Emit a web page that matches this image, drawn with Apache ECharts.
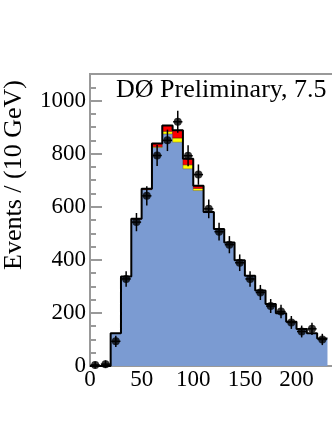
<!DOCTYPE html>
<html>
<head>
<meta charset="utf-8">
<script src="https://cdn.jsdelivr.net/npm/echarts@6/dist/echarts.min.js"></script>
<style>
  html, body { margin: 0; padding: 0; overflow: hidden; background: #fff; }
  #chart { width: 420px; height: 430px; }
</style>
</head>
<body>
<div id="chart"></div>
<script>
  // bin lower edges (GeV), 10 GeV bins
  var binLow = [0, 10, 20, 30, 40, 50, 60, 70, 80, 90, 100, 110, 120, 130, 140, 150, 160, 170, 180, 190, 200, 210, 220]
  var binWidth = 10
  // stacked predictions
  var mainBkg = [0, 0, 123, 337, 553, 664, 823, 874, 843, 743, 661, 578, 516, 465, 398, 340, 284, 234, 199, 167, 139, 123, 104]
  var yellowPart = [0, 0, 0, 0, 0, 1, 3, 10, 16, 15, 8, 0, 0, 0, 0, 0, 0, 0, 0, 0, 0, 0, 0]
  var redPart = [0, 0, 0, 0, 2, 3, 12, 22, 29, 23, 10, 2, 0, 0, 0, 0, 0, 0, 0, 0, 0, 0, 0]
  // data points and errors
  var dataPts = [4, 7, 93, 328, 542, 641, 793, 850, 920, 792, 721, 592, 506, 457, 389, 328, 277, 226, 205, 164, 130, 140, 100]
  var dataErr = [2, 3, 10, 18, 23, 25, 28, 29, 30, 28, 27, 24, 22, 21, 20, 18, 17, 15, 14, 13, 11, 12, 10]
  // axis ticks
  var yTicks = [0, 200, 400, 600, 800, 1000]

  var serif = 'Liberation Serif'

  var blueStep = [], yellowRects = [], redRects = [], outline = [], points = []
  binLow.forEach(function (lo, i) {
    var hi = lo + binWidth
    var b = mainBkg[i], y = b + yellowPart[i], r = y + redPart[i]
    blueStep.push([lo, b])
    yellowRects.push([lo, hi, b, y])
    redRects.push([lo, hi, y, r])
    outline.push([lo, r])
    points.push([(lo + hi) / 2, dataPts[i], dataErr[i], lo, hi])
  })
  var last = binLow.length - 1
  blueStep.push([binLow[last] + binWidth, mainBkg[last]])
  outline.push([binLow[last] + binWidth, outline[last][1]])

  function rectRender(fill, stroke, lw) {
    return function (params, api) {
      if (api.value(3) - api.value(2) <= 0) return
      var p0 = api.coord([api.value(0), api.value(3)])
      var p1 = api.coord([api.value(1), api.value(2)])
      return {
        type: 'rect',
        shape: { x: p0[0], y: p0[1], width: p1[0] - p0[0], height: p1[1] - p0[1] },
        style: { fill: fill, stroke: stroke, lineWidth: lw }
      }
    }
  }

  var chart = echarts.init(document.getElementById('chart'))
  var option = {
    animation: false,
    title: {
      text: 'DØ Preliminary, 7.5 fb⁻¹',
      left: 116,
      top: 77,
      padding: 0,
      textStyle: { fontFamily: serif, fontSize: 26, fontWeight: 'normal', color: '#000' }
    },
    graphic: [{
      type: 'text',
      x: 14,
      y: 175,
      rotation: Math.PI / 2,
      style: {
        text: 'Events / (10 GeV)',
        font: '26px "Liberation Serif"',
        fill: '#000',
        align: 'center',
        verticalAlign: 'middle'
      }
    }],
    grid: {
      left: 90, top: 74, right: 10, bottom: 64,
      show: true, borderColor: '#999', borderWidth: 2
    },
    xAxis: {
      type: 'value', min: 0, max: 300, interval: 50,
      axisLine: { show: true, lineStyle: { color: '#999', width: 2 } },
      axisTick: { show: false },
      splitLine: { show: false },
      axisLabel: { margin: 2, fontFamily: serif, fontSize: 23, color: '#000' }
    },
    yAxis: [{
      type: 'value', min: 0, max: 1100, interval: 200,
      axisLine: { show: true, lineStyle: { color: '#999', width: 2 } },
      axisTick: { show: true, inside: true, length: 12, lineStyle: { color: '#999', width: 2 } },
      splitLine: { show: false },
      axisLabel: {
        margin: 4, fontFamily: serif, fontSize: 23, color: '#000',
        showMaxLabel: false,
        formatter: function (v) { return yTicks.indexOf(v) >= 0 ? String(v) : '' }
      }
    }, {
      type: 'value', min: 0, max: 1100, interval: 50, position: 'left',
      axisLine: { show: false },
      axisTick: { show: true, inside: true, length: 6, lineStyle: { color: '#999', width: 2 } },
      axisLabel: { show: false },
      splitLine: { show: false }
    }],
    series: [{
      type: 'line', name: 'main', z: 2,
      step: 'end', symbol: 'none',
      lineStyle: { width: 0 },
      areaStyle: { color: '#7b9bd2', opacity: 1 },
      data: blueStep
    }, {
      type: 'custom', name: 'yellow', z: 3,
      renderItem: rectRender('#ffff00', 'rgba(60,40,0,0.6)', 0.6),
      data: yellowRects
    }, {
      type: 'custom', name: 'red', z: 3,
      renderItem: rectRender('#ff0000', 'rgba(60,0,0,0.7)', 0.6),
      data: redRects
    }, {
      type: 'line', name: 'total', z: 4,
      step: 'end', symbol: 'none',
      lineStyle: { color: '#000', width: 2 },
      data: outline
    }, {
      type: 'custom', name: 'errors', z: 5,
      renderItem: function (params, api) {
        var x = api.value(0), y = api.value(1), e = api.value(2)
        var top = api.coord([x, y + e]), bot = api.coord([x, y - e])
        var lo = api.coord([api.value(3), y]), hi = api.coord([api.value(4), y])
        var hw = (hi[0] - lo[0]) / 2
        return {
          type: 'group',
          children: [{
            type: 'line',
            shape: { x1: top[0], y1: top[1] - 3, x2: bot[0], y2: bot[1] + 3 },
            style: { stroke: '#000', lineWidth: 1.5 }
          }, {
            type: 'line',
            shape: { x1: lo[0] + hw * 0.1, y1: lo[1], x2: hi[0] - hw * 0.1, y2: hi[1] },
            style: { stroke: '#000', lineWidth: 1.5 }
          }]
        }
      },
      data: points
    }, {
      type: 'scatter', name: 'data', z: 6,
      symbol: 'circle', symbolSize: 8,
      itemStyle: { color: '#000' },
      data: points.map(function (p) { return [p[0], p[1]] })
    }]
  }
  chart.setOption(option)
</script>
</body>
</html>
